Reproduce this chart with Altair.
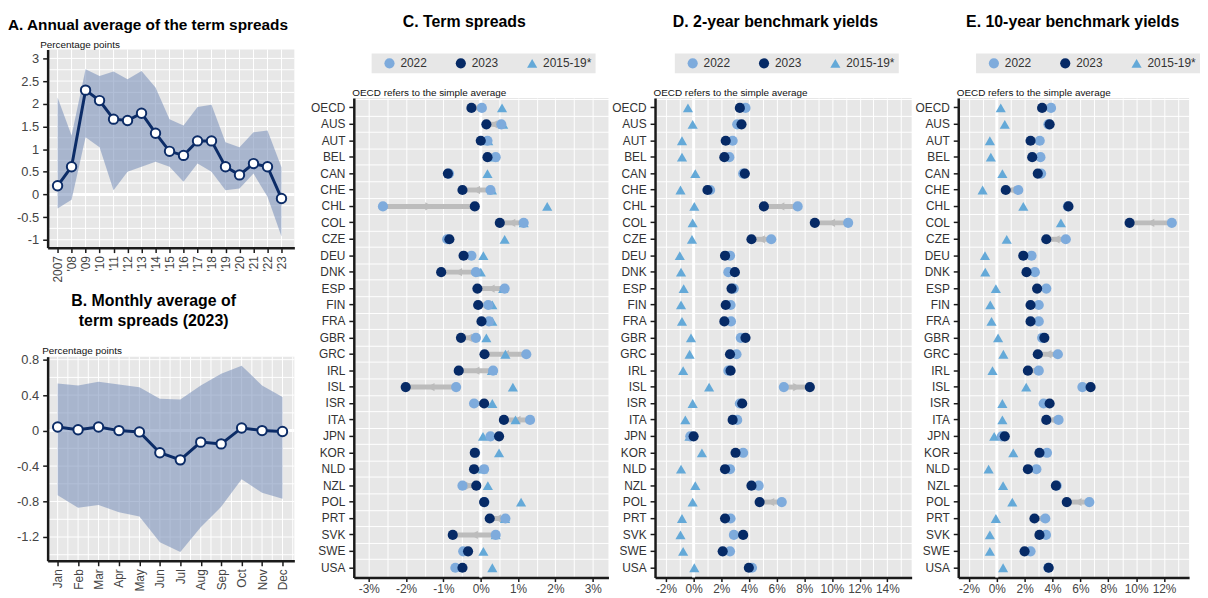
import altair as alt
import pandas as pd

# ---------------- text ----------------
A_TITLE = "A. Annual average of the term spreads"
B_TITLE = "B. Monthly average of\nterm spreads (2023)"
C_TITLE = "C. Term spreads"
D_TITLE = "D. 2-year benchmark yields"
E_TITLE = "E. 10-year benchmark yields"
UNIT_LABEL = "Percentage points"
OECD_NOTE = "OECD refers to the simple average"
LEGEND_ORDER = ["2022", "2023", "2015-19*"]

# ---------------- panel A data ----------------
YEARS = list(range(2007, 2024))
A_MEAN = [0.19, 0.61, 2.30, 2.07, 1.66, 1.63, 1.79, 1.35, 0.95, 0.86, 1.18, 1.18, 0.61, 0.43, 0.68, 0.61, -0.09]
A_HIGH = [2.14, 1.30, 2.76, 2.61, 2.71, 2.54, 2.72, 2.36, 1.66, 1.52, 1.93, 1.98, 1.15, 1.04, 1.37, 1.41, 0.60]
A_LOW = [-0.31, -0.12, 1.26, 1.04, 0.09, 0.50, 0.61, 0.72, 0.61, 0.28, 0.68, 0.50, 0.09, 0.13, 0.46, -0.05, -0.93]
A_YTICKS = [-1.0, -0.5, 0.0, 0.5, 1.0, 1.5, 2.0, 2.5, 3.0]
A_YGRID = [-1.0, -0.75, -0.5, -0.25, 0.0, 0.25, 0.5, 0.75, 1.0, 1.25, 1.5, 1.75, 2.0, 2.25, 2.5, 2.75, 3.0]

# ---------------- panel B data ----------------
MONTHS = list(range(1, 13))
MONTH_NAMES = ["Jan", "Feb", "Mar", "Apr", "May", "Jun", "Jul", "Aug", "Sep", "Oct", "Nov", "Dec"]
B_MEAN = [0.04, 0.01, 0.04, 0.00, -0.015, -0.25, -0.33, -0.13, -0.15, 0.03, 0.00, -0.01]
B_HIGH = [0.53, 0.51, 0.55, 0.52, 0.49, 0.36, 0.35, 0.51, 0.64, 0.73, 0.51, 0.38]
B_LOW = [-0.73, -0.87, -0.84, -0.92, -0.97, -1.26, -1.37, -1.09, -0.86, -0.55, -0.70, -0.77]
B_YTICKS = [-1.2, -0.8, -0.4, 0.0, 0.4, 0.8]
B_YGRID = [-1.4, -1.2, -1.0, -0.8, -0.6, -0.4, -0.2, 0.0, 0.2, 0.4, 0.6, 0.8]
B_XGRID = [0.5, 1, 1.5, 2, 2.5, 3, 3.5, 4, 4.5, 5, 5.5, 6, 6.5, 7, 7.5, 8, 8.5, 9, 9.5, 10, 10.5, 11, 11.5, 12, 12.5]

# ---------------- panels C, D, E data ----------------
COUNTRIES = ["OECD", "AUS", "AUT", "BEL", "CAN", "CHE", "CHL", "COL", "CZE", "DEU", "DNK", "ESP",
             "FIN", "FRA", "GBR", "GRC", "IRL", "ISL", "ISR", "ITA", "JPN", "KOR", "NLD", "NZL",
             "POL", "PRT", "SVK", "SWE", "USA"]
C_2022 = [0.03, 0.55, 0.18, 0.40, -0.85, 0.26, -2.62, 1.15, -0.90, -0.25, -0.13, 0.64,
          0.20, 0.22, -0.13, 1.22, 0.33, -0.66, -0.18, 1.32, 0.26, -0.15, 0.09, -0.49,
          0.10, 0.66, 0.40, -0.47, -0.68]
C_2023 = [-0.25, 0.15, 0.00, 0.18, -0.88, -0.49, -0.16, 0.51, -0.84, -0.46, -1.06, -0.09,
          -0.07, 0.02, -0.53, 0.10, -0.59, -2.01, 0.09, 0.62, 0.49, -0.16, -0.18, -0.12,
          0.09, 0.24, -0.75, -0.34, -0.49]
C_1519 = [0.57, 0.60, 0.20, 0.35, 0.18, 0.30, 1.78, 1.15, 0.64, 0.07, 0.00, 0.60,
          0.31, 0.31, 0.15, 0.66, 0.30, 0.86, 0.31, 0.93, 0.06, 0.49, 0.05, 0.19,
          1.08, 0.65, 0.40, 0.07, 0.31]
D_2022 = [3.75, 3.15, 2.82, 2.58, 3.58, 1.19, 7.52, 11.17, 5.61, 2.63, 2.51, 2.90,
          2.67, 2.70, 3.41, 3.10, 2.51, 6.52, 3.34, 3.15, -0.24, 3.58, 2.63, 4.70,
          6.37, 2.67, 2.91, 2.63, 4.22]
D_2023 = [3.34, 3.46, 2.32, 2.22, 3.70, 1.00, 5.08, 8.76, 4.18, 2.27, 2.98, 2.74,
          2.32, 2.22, 3.75, 2.63, 2.67, 8.40, 3.51, 2.82, 0.00, 3.03, 2.27, 4.18,
          4.77, 2.27, 3.58, 2.10, 3.99]
D_1519 = [-0.41, -0.07, -0.84, -0.84, 0.12, -0.95, 0.05, -0.07, -0.12, -1.00, -0.91, -0.72,
          -0.91, -0.84, -0.19, -0.29, -0.76, 1.12, -0.07, -0.60, -0.30, 0.60, -0.91, 0.12,
          -0.07, -0.84, -0.95, -0.76, 0.05]
E_2022 = [3.89, 3.70, 3.08, 3.13, 3.18, 1.54, 5.10, 12.56, 4.95, 2.49, 2.73, 3.55,
          3.01, 3.01, 3.25, 4.38, 3.01, 6.14, 3.36, 4.43, 0.36, 3.60, 2.84, 4.30,
          6.64, 3.48, 3.53, 2.42, 3.70]
E_2023 = [3.25, 3.79, 2.42, 2.54, 2.94, 0.64, 5.14, 9.53, 3.55, 1.90, 2.13, 2.89,
          2.42, 2.42, 3.41, 2.94, 2.23, 6.73, 3.79, 3.55, 0.57, 3.06, 2.23, 4.24,
          5.02, 2.70, 3.06, 1.99, 3.72]
E_1519 = [0.28, 0.57, -0.50, -0.43, 0.40, -1.02, 1.90, 4.60, 0.71, -0.85, -0.83, -0.07,
          -0.47, -0.38, 0.09, 0.47, -0.31, 2.11, 0.40, 0.40, -0.19, 1.18, -0.59, 0.45,
          1.11, -0.07, -0.50, -0.50, 0.45]
C_XTICKS = [-3, -2, -1, 0, 1, 2, 3]
C_XGRID = [-3.0, -2.5, -2.0, -1.5, -1.0, -0.5, 0.0, 0.5, 1.0, 1.5, 2.0, 2.5, 3.0]
D_XTICKS = [-2, 0, 2, 4, 6, 8, 10, 12, 14]
D_XGRID = list(range(-2, 16))
E_XTICKS = [-2, 0, 2, 4, 6, 8, 10, 12]
E_XGRID = list(range(-2, 14))
ZERO = [0]

# ---------------- style ----------------
FONT = "Liberation Sans, Arial, sans-serif"
BG = "#e7e7e7"
NAVY = "#0c2c67"
BAND = "#7f95bd"
LIGHT = "#7eabdc"
DARK = "#062a66"
TRI = "#64a9d8"
GREY = "#bcbcbc"
INK = "#1a1a1a"
LAB = "#444444"

PLOT_H = 484
AB_W, AB_H = 262, 582
A_XDOM, A_YDOM = [2006.29, 2023.92], [-1.175, 3.197]
A_XR, A_YR = [0, 249], [200, 0]
B_XDOM, B_YDOM = [0.51, 12.58], [-1.468, 0.834]
B_XR, B_YR = [0, 249], [516, 310]

SIGNED = "(datum.value < 0 ? '-' : '') + abs(datum.value)"


def ts_panel(xs, mean, lo, hi, xdom, xr, ydom, yr, xgrid, xlabel_expr,
             yticks, ygrid, x_offset, ytitle_xy):
    df = pd.DataFrame({"x": xs, "m": mean, "lo": lo, "hi": hi})
    xs_ = alt.Scale(domain=xdom, range=xr, nice=False, zero=False)
    ys_ = alt.Scale(domain=ydom, range=yr, nice=False, zero=False)
    xaxis = alt.Axis(orient="bottom", values=xs, grid=False, offset=x_offset, zindex=1,
                     labelExpr=xlabel_expr, labelAngle=270, labelOverlap=False,
                     labelFontSize=12, labelColor=LAB, labelPadding=3,
                     domainColor=INK, domainWidth=2.5, tickColor=INK, tickWidth=1.5, tickSize=5,
                     title=None)
    yaxis = alt.Axis(orient="left", values=yticks, grid=False, zindex=1,
                     labelExpr=SIGNED, labelOverlap=False,
                     labelFontSize=13, labelColor=LAB, labelPadding=4,
                     domainColor=INK, domainWidth=2.5, tickColor=INK, tickWidth=1.5, tickSize=5,
                     title=UNIT_LABEL, titleAngle=0, titleX=ytitle_xy[0], titleY=ytitle_xy[1],
                     titleAlign="left", titleBaseline="alphabetic",
                     titleFontSize=10, titleFontWeight="normal", titleColor="#111111")
    box = pd.DataFrame({"x1": [xdom[0]], "x2": [xdom[1]], "y1": [ydom[0]], "y2": [ydom[1]]})
    bg = alt.Chart(box).mark_rect(color=BG).encode(
        x=alt.X("x1:Q", scale=xs_, axis=xaxis), x2="x2:Q",
        y=alt.Y("y1:Q", scale=ys_, axis=yaxis), y2="y2:Q")
    vg = pd.DataFrame({"g": xgrid, "y1": ydom[0], "y2": ydom[1]})
    vgrid = alt.Chart(vg).mark_rule(color="white", strokeWidth=1).encode(
        x=alt.X("g:Q", scale=xs_, axis=xaxis),
        y=alt.Y("y1:Q", scale=ys_, axis=yaxis), y2="y2:Q")
    hg = pd.DataFrame({"g": ygrid, "x1": xdom[0], "x2": xdom[1],
                       "w": [3 if v == 0 else 1 for v in ygrid]})
    hgrid = alt.Chart(hg).mark_rule(color="white").encode(
        y=alt.Y("g:Q", scale=ys_, axis=yaxis),
        x=alt.X("x1:Q", scale=xs_, axis=xaxis), x2="x2:Q",
        strokeWidth=alt.StrokeWidth("w:Q", scale=None))
    band = alt.Chart(df).mark_area(color=BAND, opacity=0.6).encode(
        x=alt.X("x:Q", scale=xs_, axis=xaxis),
        y=alt.Y("lo:Q", scale=ys_, axis=yaxis), y2="hi:Q")
    line = alt.Chart(df).mark_line(color=NAVY, strokeWidth=3).encode(
        x=alt.X("x:Q", scale=xs_, axis=xaxis),
        y=alt.Y("m:Q", scale=ys_, axis=yaxis))
    pts = alt.Chart(df).mark_point(filled=True, fill="white", stroke=NAVY, strokeWidth=2,
                                   size=90, opacity=1).encode(
        x=alt.X("x:Q", scale=xs_, axis=xaxis),
        y=alt.Y("m:Q", scale=ys_, axis=yaxis))
    return alt.layer(bg, vgrid, hgrid, band, line, pts)


panel_a = ts_panel(
    YEARS, A_MEAN, A_LOW, A_HIGH, A_XDOM, A_XR, A_YDOM, A_YR, YEARS,
    "datum.value === 2007 ? '2007' : \"'\" + (datum.value - 2000 < 10 ? '0' : '') + (datum.value - 2000)",
    A_YTICKS, A_YGRID, A_YR[0] - AB_H, (-8, -2))

month_arr = "[" + ",".join(f"'{m}'" for m in MONTH_NAMES) + "]"
panel_b = ts_panel(
    MONTHS, B_MEAN, B_LOW, B_HIGH, B_XDOM, B_XR, B_YDOM, B_YR, B_XGRID,
    f"{month_arr}[datum.value - 1]",
    B_YTICKS, B_YGRID, B_YR[0] - AB_H, (-6, B_YR[1] - 3))

b_title = alt.Chart(pd.DataFrame({"t": [B_TITLE]})).mark_text(
    font=FONT, fontSize=16, fontWeight="bold", align="center", baseline="alphabetic",
    lineBreak="\n", lineHeight=20, color="black").encode(
    text="t:N", x=alt.value(107), y=alt.value(259))

ab = alt.layer(panel_a, panel_b, b_title).resolve_scale(
    x="independent", y="independent").properties(
    width=AB_W, height=AB_H,
    title=alt.TitleParams(A_TITLE, anchor="start", frame="group", dx=-40, offset=6, fontSize=15.5))


def dot_panel(v22, v23, v15, xdom, xticks, xgrid, width, title, title_dx, leg_x):
    df = pd.DataFrame({"country": COUNTRIES, "v22": v22, "v23": v23})
    df["mid"] = (df["v22"] + df["v23"]) / 2
    long = pd.concat([
        pd.DataFrame({"country": COUNTRIES, "series": "2015-19*", "value": v15}),
        pd.DataFrame({"country": COUNTRIES, "series": "2022", "value": v22}),
        pd.DataFrame({"country": COUNTRIES, "series": "2023", "value": v23}),
    ], ignore_index=True)
    xs_ = alt.Scale(domain=xdom, nice=False, zero=False)
    ys_ = alt.Scale(type="band", paddingInner=0, paddingOuter=0.1)
    xmain = alt.Axis(orient="bottom", values=xticks, grid=False,
                     labelExpr=SIGNED + " + '%'",
                     labelFontSize=12, labelColor=LAB, labelPadding=2, labelOverlap=False,
                     domainColor=INK, domainWidth=2.5, tickColor=INK, tickWidth=1.5, tickSize=4,
                     title=None)
    xgrid_ax = alt.Axis(orient="top", values=xgrid, grid=True, gridColor="white", gridWidth=1,
                        labels=False, ticks=False, domain=False, title=None)
    ylab = alt.Axis(orient="left", grid=False, labelFontSize=12, labelColor="#333333",
                    labelPadding=4, domainColor=INK, domainWidth=2.5, tickColor=INK,
                    tickWidth=1.5, tickSize=5,
                    title=OECD_NOTE, titleAngle=0, titleX=-2, titleY=-3, titleAlign="left",
                    titleBaseline="alphabetic", titleFontSize=10,
                    titleFontWeight="normal", titleColor="#111111")
    ygrid_ax = alt.Axis(orient="right", grid=True, gridColor="white", gridWidth=1, bandPosition=0,
                        labels=False, ticks=False, domain=False, title=None)
    y_nolab = alt.Y("country:N", scale=ys_, sort=COUNTRIES, axis=None)
    zero = alt.Chart(pd.DataFrame({"z": ZERO})).mark_rule(color="white", strokeWidth=3).encode(
        x=alt.X("z:Q", scale=xs_, axis=None))
    seg = alt.Chart(df).mark_rule(color=GREY, strokeWidth=5).encode(
        x=alt.X("v22:Q", scale=xs_, axis=xmain), x2="v23:Q",
        y=alt.Y("country:N", scale=ys_, sort=COUNTRIES, axis=ylab))
    arr_r = alt.Chart(df).transform_filter("datum.v23 > datum.v22").mark_point(
        shape="triangle-right", filled=True, color=GREY, size=70, opacity=1).encode(
        x=alt.X("mid:Q", scale=xs_, axis=None), y=y_nolab)
    arr_l = alt.Chart(df).transform_filter("datum.v23 < datum.v22").mark_point(
        shape="triangle-left", filled=True, color=GREY, size=70, opacity=1).encode(
        x=alt.X("mid:Q", scale=xs_, axis=None), y=y_nolab)
    leg = alt.Legend(orient="none", legendX=leg_x, legendY=-45, direction="horizontal",
                     title=" ", titleOrient="left", titlePadding=8, titleFontSize=12,
                     fillColor=BG, padding=4, labelFontSize=12, labelFont=FONT,
                     labelColor="#333333", symbolSize=55, symbolStrokeWidth=0,
                     columnPadding=28, labelOffset=5)
    pts = alt.Chart(long).mark_point(filled=True, opacity=1).encode(
        x=alt.X("value:Q", scale=xs_, axis=xgrid_ax),
        y=alt.Y("country:N", scale=ys_, sort=COUNTRIES, axis=ygrid_ax),
        color=alt.Color("series:N", scale=alt.Scale(domain=LEGEND_ORDER, range=[LIGHT, DARK, TRI]),
                        legend=leg),
        shape=alt.Shape("series:N", scale=alt.Scale(domain=LEGEND_ORDER,
                                                   range=["circle", "circle", "triangle-up"]),
                        legend=leg),
        size=alt.Size("series:N", scale=alt.Scale(domain=LEGEND_ORDER, range=[105, 105, 18]),
                      legend=None))
    return alt.layer(zero, seg, arr_r, arr_l, pts).resolve_axis(
        x="independent", y="independent").properties(
        width=width, height=PLOT_H,
        view=alt.ViewBackground(fill=BG, strokeWidth=0),
        title=alt.TitleParams(title, anchor="middle", frame="group", dx=title_dx, offset=24))


panel_c = dot_panel(C_2022, C_2023, C_1519, [-3.4, 3.42], C_XTICKS, C_XGRID, 257, C_TITLE, -17, 18)
panel_d = dot_panel(D_2022, D_2023, D_1519, [-2.79, 15.76], D_XTICKS, D_XGRID, 259, D_TITLE, -8, 20)
panel_e = dot_panel(E_2022, E_2023, E_1519, [-2.77, 13.8], E_XTICKS, E_XGRID, 233, E_TITLE, -1, 18)

chart = alt.hconcat(ab, panel_c, panel_d, panel_e, spacing=47, bounds="flush", center=True).resolve_scale(
    color="independent", shape="independent", size="independent").properties(
    padding={"left": 0, "top": 3, "right": 0, "bottom": 0}).configure(
    font=FONT).configure_view(strokeWidth=0).configure_title(
    font=FONT, fontSize=16, fontWeight="bold", color="black")

chart.save("out.html", embed_options={"renderer": "svg", "actions": False})
